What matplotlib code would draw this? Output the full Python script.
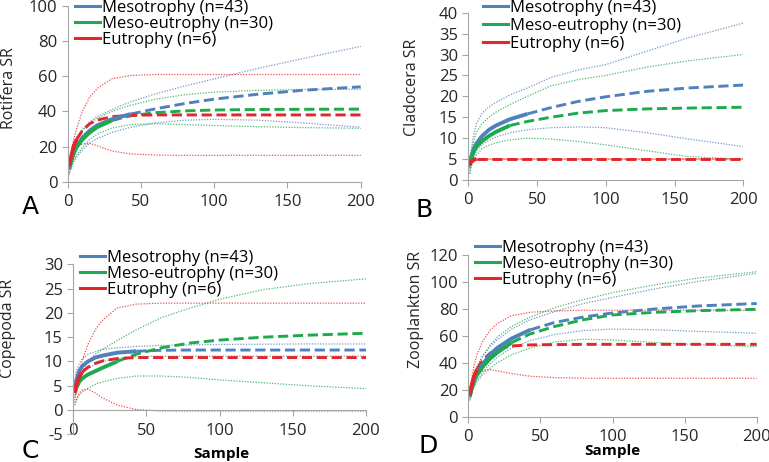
import matplotlib
matplotlib.use('Agg')
import matplotlib.pyplot as plt

plt.rcParams['font.family'] = ['Open Sans', 'DejaVu Sans']
plt.rcParams['axes.unicode_minus'] = False

# sample points
samples = [1, 2, 4, 6, 10, 15, 20, 30, 43, 60, 80, 100, 130, 160, 200]
groups = ['Mesotrophy (n=43)', 'Meso-eutrophy (n=30)', 'Eutrophy (n=6)']
n_obs = [43, 30, 6]

# A - Rotifera
rot_meso = [7, 11, 16, 20, 25, 29, 32, 35.5, 38.5, 41.5, 44.5, 47, 49.8, 52, 54]
rot_meso_hi = [10, 15, 21, 25, 30, 34, 37, 41, 45.5, 50, 54.5, 58.5, 64.5, 70, 77]
rot_meso_lo = [4, 7, 11, 14, 18, 22, 24.5, 28, 31, 33.5, 35, 35.5, 35, 33.5, 31]
rot_meso_eu = [8, 11, 16, 19.5, 24, 28, 31, 34.8, 37.5, 39.3, 40.3, 40.8, 41.1, 41.2, 41.3]
rot_meso_eu_hi = [10, 14, 20, 24, 29, 33, 36, 40, 43.5, 47, 49.5, 51, 52, 52.5, 52.6]
rot_meso_eu_lo = [5, 8, 12, 15, 19.5, 24, 27, 30.5, 32.5, 33, 32.5, 32, 31.3, 30.8, 30.4]
rot_eu = [9, 13, 20, 24, 29, 33, 35, 37, 37.8, 38, 38, 38, 38, 38, 38]
rot_eu_hi = [10, 15, 24, 30, 40, 48, 53, 58.5, 60.5, 61, 61, 61, 61, 61, 61]
rot_eu_lo = [8, 12, 17, 20, 21.5, 21.8, 20.5, 17.5, 15.8, 15.2, 15, 15, 15, 15, 15]

# B - Cladocera
cla_meso = [3.5, 5.5, 7.5, 8.8, 10.5, 12, 13, 14.5, 15.8, 17.3, 18.8, 19.9, 21.2, 22, 22.7]
cla_meso_hi = [3, 7, 11, 13.5, 16, 17.5, 18.5, 20.3, 22, 24.5, 26.3, 27.6, 30.8, 34, 37.5]
cla_meso_lo = [1.5, 3.5, 5.5, 7, 8.5, 9.5, 10.3, 11.3, 12, 12.5, 12.7, 12.5, 11.3, 9.8, 8]
cla_meso_eu = [3.5, 5, 6.8, 8, 9.3, 10.5, 11.5, 13, 14, 15, 16, 16.6, 17, 17.2, 17.4]
cla_meso_eu_hi = [2.5, 6, 9.5, 11.5, 13.5, 15, 16.2, 18, 20, 22.5, 24, 25, 27, 28.5, 30]
cla_meso_eu_lo = [1.5, 3, 5, 6, 7.5, 8.3, 8.9, 9.6, 10, 9.8, 9.2, 8.4, 7, 5.6, 5]
cla_eu = [3.5, 4.3, 4.8, 5, 5, 5, 5, 5, 5, 5, 5, 5, 5, 5, 5]
cla_eu_hi = [4, 4.8, 5, 5, 5, 5, 5, 5, 5, 5, 5, 5, 5, 5, 5]
cla_eu_lo = [3, 3.8, 4.6, 4.9, 5, 5, 5, 5, 5, 5, 5, 5, 5, 5, 5]

# C - Copepoda
cop_meso = [4.5, 6, 8, 9, 10, 10.8, 11.2, 11.8, 12.1, 12.3, 12.35, 12.35, 12.35, 12.35, 12.35]
cop_meso_hi = [6, 8, 9.5, 10.5, 11.5, 12, 12.5, 12.8, 13.1, 13.3, 13.4, 13.5, 13.55, 13.6, 13.6]
cop_meso_lo = [3, 4.5, 6.5, 7.5, 8.5, 9.4, 10, 10.6, 11, 11.1, 11.1, 11.1, 11.1, 11.1, 11.1]
cop_meso_eu = [3.5, 4.5, 5.8, 6.5, 7.3, 8, 8.7, 10, 11.5, 12.8, 13.8, 14.4, 15, 15.4, 15.8]
cop_meso_eu_hi = [2.5, 4, 6.5, 8, 10, 11.5, 12.5, 14.3, 16.5, 19, 21, 22.8, 24.8, 26, 27]
cop_meso_eu_lo = [1.5, 2, 3, 3.7, 4.5, 5.3, 5.8, 6.5, 7, 7, 6.7, 6.2, 5.6, 5, 4.4]
cop_eu = [3.5, 5, 6.8, 7.8, 8.8, 9.6, 10.1, 10.6, 10.8, 10.8, 10.8, 10.8, 10.8, 10.8, 10.8]
cop_eu_hi = [2, 4, 7.5, 10, 13.5, 16.5, 18.5, 21, 21.8, 22, 22, 22, 22, 22, 22]
cop_eu_lo = [1, 2, 3.5, 4.1, 4.3, 3.5, 2.5, 1, 0.1, -0.2, -0.2, -0.2, -0.2, -0.2, -0.2]

# D - Zooplankton
zoo_meso = [15, 20, 27, 32, 39, 46, 51, 58, 64.5, 70, 74, 77, 80, 82.2, 84]
zoo_meso_hi = [17, 23, 31, 37, 45, 52, 57, 65, 72, 78, 84, 88.5, 95, 100.5, 106.4]
zoo_meso_lo = [13, 17, 23, 27, 33, 39, 44, 51, 56.5, 61, 64, 65, 64.5, 63.3, 61.9]
zoo_meso_eu = [15, 20, 27, 31, 37, 43, 47.5, 55, 61.5, 67, 72, 75.5, 77.5, 78.7, 79.7]
zoo_meso_eu_hi = [17, 23, 31, 37, 45, 53, 59, 67, 74, 81, 87, 92, 98, 103, 107.6]
zoo_meso_eu_lo = [12, 16, 22, 26, 31, 36, 40, 46, 51, 55.5, 57.5, 57, 55, 53.5, 52]
zoo_eu = [16, 22, 30, 35, 42, 47, 50, 52.5, 53.3, 53.5, 53.7, 53.7, 53.7, 53.7, 53.7]
zoo_eu_hi = [18, 26, 38, 46, 56, 64, 69, 75, 77.5, 78.5, 79, 79, 79, 79, 79]
zoo_eu_lo = [14, 20, 27, 31, 34, 35, 34, 32, 30, 29, 28.6, 28.5, 28.5, 28.5, 28.5]

colors = ['#4F81BD', '#1DAA4E', '#E3262A']


def draw_panel(ax, series, ylim, ystep, ylabel):
    for (mean, lo, hi), color in zip(series, colors):
        for band in (lo, hi):
            ax.plot(samples, band, color=color, lw=0.9, linestyle=(0, (1, 1.2)), alpha=0.8)
    for (mean, lo, hi), color, n in zip(series, colors, n_obs):
        k = samples.index(n)
        ax.plot(samples[k:], mean[k:], color=color, lw=2.1, linestyle=(0, (3.5, 1.6)))
    for (mean, lo, hi), color, n, label in zip(series, colors, n_obs, groups):
        k = samples.index(n)
        ax.plot(samples[:k + 1], mean[:k + 1], color=color, lw=2.8, solid_capstyle='butt')
        ax.plot([], [], color=color, lw=2.2, label=label)

    ax.set_xlim(0, 200)
    ax.set_ylim(*ylim)
    ax.set_xticks(range(0, 201, 50))
    ax.set_yticks(range(ylim[0], ylim[1] + 1, ystep))
    for side in ['top', 'right']:
        ax.spines[side].set_visible(False)
    for side in ['left', 'bottom']:
        ax.spines[side].set_color('#A6A6A6')
    if ylim[0] < 0:
        ax.spines['bottom'].set_position(('data', 0))
    ax.tick_params(colors='#A6A6A6', labelcolor='#262626', labelsize=12, length=4)
    ax.tick_params(axis='x', pad=5)
    ax.set_ylabel(ylabel, fontsize=11.5, color='#262626')


fig = plt.figure(figsize=(7.69, 4.62), dpi=100)
W, H = 769.0, 462.0


def add_axes(left, right, top, bottom):
    return fig.add_axes([left / W, 1 - bottom / H, (right - left) / W, (bottom - top) / H])


axA = add_axes(67.7, 360.7, 6, 181.7)
axB = add_axes(468.3, 743.3, 12.7, 180)
axC = add_axes(73.3, 366, 264.3, 434.3)
axD = add_axes(468.3, 756.7, 255, 416.7)

draw_panel(axA, [(rot_meso, rot_meso_lo, rot_meso_hi),
                 (rot_meso_eu, rot_meso_eu_lo, rot_meso_eu_hi),
                 (rot_eu, rot_eu_lo, rot_eu_hi)], (0, 100), 20, 'Rotifera SR')
draw_panel(axB, [(cla_meso, cla_meso_lo, cla_meso_hi),
                 (cla_meso_eu, cla_meso_eu_lo, cla_meso_eu_hi),
                 (cla_eu, cla_eu_lo, cla_eu_hi)], (0, 40), 5, 'Cladocera SR')
draw_panel(axC, [(cop_meso, cop_meso_lo, cop_meso_hi),
                 (cop_meso_eu, cop_meso_eu_lo, cop_meso_eu_hi),
                 (cop_eu, cop_eu_lo, cop_eu_hi)], (-5, 30), 5, 'Copepoda SR')
draw_panel(axD, [(zoo_meso, zoo_meso_lo, zoo_meso_hi),
                 (zoo_meso_eu, zoo_meso_eu_lo, zoo_meso_eu_hi),
                 (zoo_eu, zoo_eu_lo, zoo_eu_hi)], (0, 120), 20, 'Zooplankton SR')

# y label positions: pixel x of the label's right edge, pixel y of its centre
for ax, (left, right, top, bottom), (lx, ly) in [
        (axA, (67.7, 360.7, 6, 181.7), (17, 88)),
        (axB, (468.3, 743.3, 12.7, 180), (420, 87)),
        (axC, (73.3, 366, 264.3, 434.3), (16, 328)),
        (axD, (468.3, 756.7, 255, 416.7), (424, 309))]:
    ax.yaxis.set_label_coords((lx - left) / (right - left), (bottom - ly) / (bottom - top))

# legends, anchored at the handle start / top of first row
for ax, (x, y), spacing in [(axA, (75, 0), 0.0), (axB, (483, 0), 0.12),
                            (axC, (80, 250), 0.0), (axD, (475, 240), 0.0)]:
    ax.legend(loc='upper left', bbox_to_anchor=(x / W, 1 - y / H), bbox_transform=fig.transFigure,
              frameon=False, fontsize=12, handlelength=1.5, handletextpad=0.1,
              borderpad=0, borderaxespad=0, labelspacing=spacing)

for letter, (x, y) in zip('ABCD', [(30, 207), (424, 210), (30, 451), (428, 446)]):
    fig.text(x / W, 1 - y / H, letter, fontsize=18, ha='center', va='center', family='DejaVu Sans')

for x, y in [(221, 454), (612, 451)]:
    fig.text(x / W, 1 - y / H, 'Sample', fontsize=11, fontweight='bold', ha='center', va='center')

fig.savefig('out.png', dpi=100)
